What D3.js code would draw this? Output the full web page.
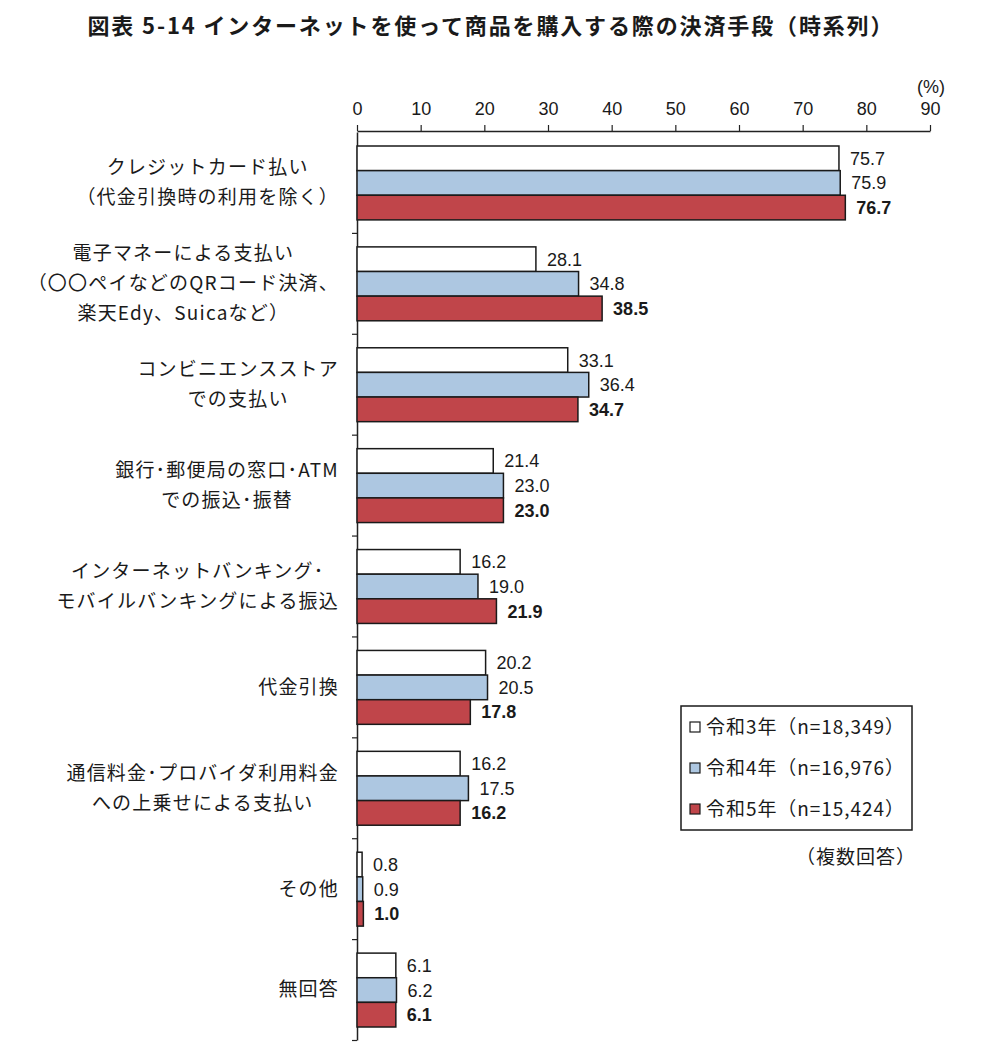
<!DOCTYPE html>
<html><head><meta charset="utf-8">
<script src="https://cdn.jsdelivr.net/npm/d3@7"></script>
<style>
body{margin:0;background:#fff;}
svg{display:block;}
text{fill:#1a1a1a;}
</style></head>
<body>
<svg id="c" width="1000" height="1060"></svg>
<script>
const categories = [
  ["クレジットカード払い","（代金引換時の利用を除く）"],
  ["電子マネーによる支払い","（〇〇ペイなどのQRコード決済、","楽天Edy、Suicaなど）"],
  ["コンビニエンスストア","での支払い"],
  ["銀行･郵便局の窓口･ATM","での振込･振替"],
  ["インターネットバンキング･","モバイルバンキングによる振込"],
  ["代金引換"],
  ["通信料金･プロバイダ利用料金","への上乗せによる支払い"],
  ["その他"],
  ["無回答"]
];
const seriesNames = ["令和3年（n=18,349）","令和4年（n=16,976）","令和5年（n=15,424）"];
const r3 = [75.7, 28.1, 33.1, 21.4, 16.2, 20.2, 16.2, 0.8, 6.1];
const r4 = [75.9, 34.8, 36.4, 23.0, 19.0, 20.5, 17.5, 0.9, 6.2];
const r5 = [76.7, 38.5, 34.7, 23.0, 21.9, 17.8, 16.2, 1.0, 6.1];
const xTicks = [0,10,20,30,40,50,60,70,80,90];
const series = [r3, r4, r5];
const colors = ["#ffffff", "#adc7e1", "#c0454a"];

const svg = d3.select("#c");
const jp = "'Noto Sans CJK JP','Noto Sans',sans-serif";
const num = "'Liberation Sans',Arial,sans-serif";

// title
svg.append("text").attr("x", 490).attr("y", 34)
  .attr("text-anchor","middle").attr("font-family", jp).attr("font-weight","bold")
  .attr("font-size", 22).attr("textLength", 805).attr("lengthAdjust","spacing")
  .text("図表 5-14  インターネットを使って商品を購入する際の決済手段（時系列）");

const x = d3.scaleLinear().domain([0, 90]).range([357, 930]);
const y = d3.scaleBand().domain(d3.range(categories.length)).range([132, 1040]).paddingInner(0).paddingOuter(0);
const inner = d3.scaleBand().domain([0,1,2]).range([14, y.bandwidth() - 13]);

// top axis
const xAxis = d3.axisTop(x).tickValues(xTicks).tickSize(6).tickSizeOuter(0);
const gx = svg.append("g").attr("transform","translate(0,131)").call(xAxis);
gx.select(".domain").attr("stroke","#222").attr("stroke-width",1.5);
gx.selectAll(".tick line").attr("stroke","#222").attr("stroke-width",1.2);
gx.selectAll(".tick text").attr("font-family", num).attr("font-size", 18).attr("fill","#1a1a1a").attr("dy","-0.4em");

svg.append("text").attr("x", 931).attr("y", 93).attr("text-anchor","middle")
  .attr("font-family", num).attr("font-size", 18).text("(%)");

// left axis
const yAxis = d3.axisLeft(d3.scaleLinear().domain([0, categories.length]).range([132, 1040]))
  .tickValues(d3.range(1, categories.length + 1)).tickSize(5).tickFormat("").tickSizeOuter(0);
const gy = svg.append("g").attr("transform","translate(357,0)").call(yAxis);
gy.select(".domain").attr("stroke","#222").attr("stroke-width",1.5);
gy.selectAll(".tick line").attr("stroke","#222").attr("stroke-width",1.2);

// bars
categories.forEach((cat, i) => {
  series.forEach((s, j) => {
    const y0 = y(i) + inner(j);
    svg.append("rect").attr("x", x(0)).attr("y", y0)
      .attr("width", x(s[i]) - x(0)).attr("height", inner.bandwidth())
      .attr("fill", colors[j]).attr("stroke", "#1a1a1a").attr("stroke-width", 1.5);
    svg.append("text").attr("x", x(s[i]) + 11).attr("y", y0 + inner.bandwidth()/2)
      .attr("dy","0.36em").attr("font-family", num).attr("font-size", 18)
      .attr("font-weight", j === 2 ? "bold" : "normal")
      .text(s[i].toFixed(1));
  });
  const g = svg.append("g");
  const lh = 30;
  const cy = y(i) + y.bandwidth()/2;
  const texts = cat.map((line, k) => g.append("text")
    .attr("y", cy + (k - (cat.length - 1)/2) * lh).attr("dy","0.36em")
    .attr("font-family", jp).attr("font-size", 19).attr("letter-spacing", 1.2)
    .attr("text-anchor","middle").text(line));
  const widths = texts.map(t => t.node().getComputedTextLength());
  const maxW = d3.max(widths);
  texts.forEach(t => t.attr("x", 339 - maxW/2));
});

// legend
const lg = svg.append("g");
lg.append("rect").attr("x", 681).attr("y", 706).attr("width", 231).attr("height", 124)
  .attr("fill","#fff").attr("stroke","#1a1a1a").attr("stroke-width",1.5);
seriesNames.forEach((n, j) => {
  const ly = 727 + j * 41;
  lg.append("rect").attr("x", 690).attr("y", ly - 5).attr("width", 10).attr("height", 10)
    .attr("fill", colors[j]).attr("stroke","#1a1a1a").attr("stroke-width",1.2);
  lg.append("text").attr("x", 706).attr("y", ly).attr("dy","0.36em")
    .attr("font-family", jp).attr("font-size", 19).attr("textLength", 198).attr("lengthAdjust","spacing").text(n);
});
svg.append("text").attr("x", 916).attr("y", 857).attr("dy","0.36em").attr("text-anchor","end")
  .attr("font-family", jp).attr("font-size", 19).attr("letter-spacing", 1).text("（複数回答）");
</script>
</body></html>
